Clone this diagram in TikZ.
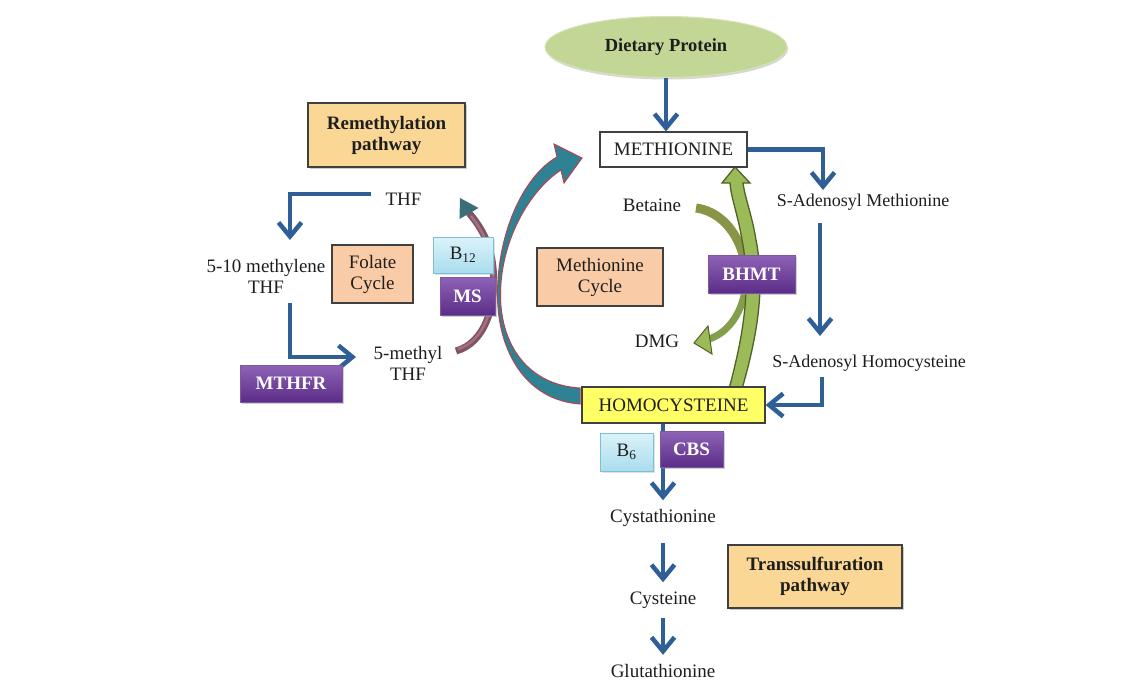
\documentclass[tikz,border=0pt]{standalone}
\usepackage{fontspec}
\setmainfont{Liberation Serif}
\usetikzlibrary{arrows.meta,shadows,shapes.geometric,calc}
\definecolor{barrowC}{HTML}{2F5F97}
\definecolor{goldF}{HTML}{FAD795}
\definecolor{peachF}{HTML}{F9CBA6}
\definecolor{bordC}{HTML}{404040}
\definecolor{purT}{HTML}{8E63B6}
\definecolor{purB}{HTML}{5C2D88}
\definecolor{cyanT}{HTML}{DCF2F9}
\definecolor{cyanB}{HTML}{A9DDEE}
\definecolor{cyanD}{HTML}{7DBFD6}
\definecolor{yelF}{HTML}{FFFF66}
\definecolor{ellF}{HTML}{C2D796}
\definecolor{tealF}{HTML}{2E8294}
\definecolor{tealE}{HTML}{B5444C}
\definecolor{mauveD}{HTML}{7E5566}
\definecolor{mauveL}{HTML}{A86F80}
\definecolor{tealTip}{HTML}{3A6E78}
\definecolor{greenF}{HTML}{9BBB59}
\definecolor{greenD}{HTML}{4F6228}
\definecolor{oliveF}{HTML}{8A9446}
\definecolor{textC}{HTML}{1E1E1E}
\begin{document}
\begin{tikzpicture}[x=1pt,y=-1pt,
  txt/.style={font=\fontsize{19}{21}\selectfont, text=textC, align=center, inner sep=0pt, text height=12pt, text depth=3pt},
  stxt/.style={txt, font=\fontsize{18}{20}\selectfont},
  mtxt/.style={font=\fontsize{19}{21}\selectfont, text=textC, align=center, inner sep=0pt},
  box/.style={draw=bordC, line width=1.2pt, align=center, inner sep=0pt, text=textC, font=\fontsize{19}{21}\selectfont},
  goldbox/.style={box, fill=goldF, font=\fontsize{19}{21}\selectfont\bfseries, drop shadow={shadow xshift=2pt, shadow yshift=-2pt, fill=black!40, opacity=.5}},
  peachbox/.style={box, fill=peachF},
  purbox/.style={draw=purB!80, line width=0.6pt, top color=purT, bottom color=purB, text=white, align=center, inner sep=0pt, font=\fontsize{19}{21}\selectfont\bfseries, drop shadow={shadow xshift=2pt, shadow yshift=-2pt, fill=black!40, opacity=.45}},
  cybox/.style={draw=cyanD, line width=0.8pt, top color=cyanT, bottom color=cyanB, text=textC, align=center, inner sep=0pt, font=\fontsize{19}{21}\selectfont, drop shadow={shadow xshift=1.5pt, shadow yshift=-1.5pt, fill=black!30, opacity=.4}},
  barrow/.style={draw=barrowC, line width=4.5pt, -{Straight Barb[length=14pt,width=23pt]}}
]
\useasboundingbox (0,0) rectangle (1140,681);
\fill[white] (0,0) rectangle (1140,681);

% big teal arrow (homocysteine -> methionine)
\filldraw[fill=tealF, draw=tealE, line width=1pt, line join=miter]
  (580,404) .. controls (525,400) and (497.5,350) .. (497.5,295)
  .. controls (497.5,230) and (525,175) .. (557,157)
  -- (554,144) -- (582,158) -- (564,183) -- (561,170)
  .. controls (530,190) and (500.5,240) .. (500.5,295)
  .. controls (500.5,345) and (528,385) .. (580,388) -- cycle;

% mauve arrow 5-methyl THF -> THF
\draw[mauveD, line width=7pt] (456,351) .. controls (485,343) and (497,305) .. (493,268) .. controls (491,245) and (482,228) .. (469,213);
\draw[mauveL, line width=2.5pt] (458,349) .. controls (485,341) and (496,305) .. (492.5,268) .. controls (490.5,246) and (482,230) .. (471,216);
\fill[tealTip] (460,198) -- (478.5,208) -- (459.5,219) -- cycle;

% betaine -> DMG arrow
\draw[oliveF, line width=9pt] (696,208) .. controls (728,212) and (748,248) .. (746,282);
\draw[greenF!85!black, line width=7pt] (746,282) .. controls (744,312) and (728,333) .. (709,339);
\filldraw[fill=greenF, draw=greenD, line width=1pt] (694,343) -- (708,326) -- (712,354) -- cycle;

% big green arrow homocysteine -> methionine
\filldraw[fill=greenF, draw=greenD, line width=1.3pt, line join=miter]
  (729,389) .. controls (742,340) and (752,290) .. (742,240)
  .. controls (738,215) and (731,198) .. (730,183)
  -- (722,183) -- (735,167) -- (750,183) -- (743,183)
  .. controls (745,198) and (752,215) .. (756,240)
  .. controls (766,290) and (756,340) .. (742,389) -- cycle;

% text nodes
\node[txt] (thf) at (403.5,201) {THF};
\node[mtxt] (m510) at (266,276.5) {5-10 methylene\\THF};
\node[mtxt] (m5) at (408,363.5) {5-methyl\\THF};
\node[txt] (betaine) at (652,207) {Betaine};
\node[txt] (dmg) at (657,343) {DMG};
\node[stxt] (sam) at (863,202) {S-Adenosyl Methionine};
\node[stxt] (sah) at (869,363) {S-Adenosyl Homocysteine};
\node[txt] (cysta) at (663,518) {Cystathionine};
\node[txt] (cyst) at (663,600) {Cysteine};
\node[txt] (gluta) at (663,673) {Glutathionine};

% box nodes
\node[ellipse, fill=ellF, draw=ellF!70!white, line width=1pt, minimum width=242pt, minimum height=61pt, inner sep=0pt, text=textC, font=\fontsize{18.5}{20}\selectfont\bfseries, drop shadow={shadow xshift=1pt, shadow yshift=-2pt, fill=black!40, opacity=.4}] (diet) at (666,47) {Dietary Protein};
\node[box, fill=white, minimum width=147pt, minimum height=35pt] (met) at (673.5,149.5) {METHIONINE};
\node[box, fill=yelF, minimum width=183pt, minimum height=36pt] (hcy) at (673.5,405) {HOMOCYSTEINE};

% blue arrows
\coordinate (samin) at (823,190);
\coordinate (samout) at (820,223);
\coordinate (sahin) at (820,336);
\coordinate (sahout) at (822,377);
\coordinate (thfout) at (371,194);
\coordinate (m510in) at (290,240);
\coordinate (m510out) at (290,303);
\coordinate (m5in) at (356,357);
\draw[barrow] (diet.south) -- (diet.south |- met.north);
\draw[barrow] (met.east) -| (samin);
\draw[barrow] (samout) -- (sahin);
\draw[barrow] (sahout) |- (hcy.east);
\draw[barrow, shorten >=10pt] (hcy.south -| cysta.north) -- (cysta.north);
\draw[barrow, shorten <=17.5pt, shorten >=10pt] (cysta.south) -- (cyst.north);
\draw[barrow, shorten <=10.5pt, shorten >=10.5pt] (cyst.south) -- (gluta.north);
\draw[barrow] (thfout) -| (m510in);
\draw[barrow] (m510out) |- (m5in);

% labelled boxes on top
\node[goldbox, minimum width=157pt, minimum height=64pt] (remeth) at (386.5,135) {Remethylation\\pathway};
\node[peachbox, minimum width=81pt, minimum height=58pt] (folate) at (372.5,274) {Folate\\Cycle};
\node[purbox, minimum width=102pt, minimum height=37pt] (mthfr) at (291,383.5) {MTHFR};
\node[cybox, minimum width=60pt, minimum height=36pt] (b12) at (463,255) {B\textsubscript{12}};
\node[purbox, minimum width=55pt, minimum height=38pt] (ms) at (467.5,296) {MS};
\node[peachbox, minimum width=126pt, minimum height=58pt] (metcyc) at (600,277) {Methionine\\Cycle};
\node[purbox, minimum width=87pt, minimum height=38pt] (bhmt) at (751.5,274) {BHMT};
\node[cybox, minimum width=53pt, minimum height=38pt] (b6) at (626.5,452) {B\textsubscript{6}};
\node[purbox, minimum width=63pt, minimum height=36pt] (cbs) at (691.5,449) {CBS};
\node[goldbox, minimum width=174pt, minimum height=63pt] (trans) at (815,576.5) {Transsulfuration\\pathway};
\end{tikzpicture}
\end{document}
